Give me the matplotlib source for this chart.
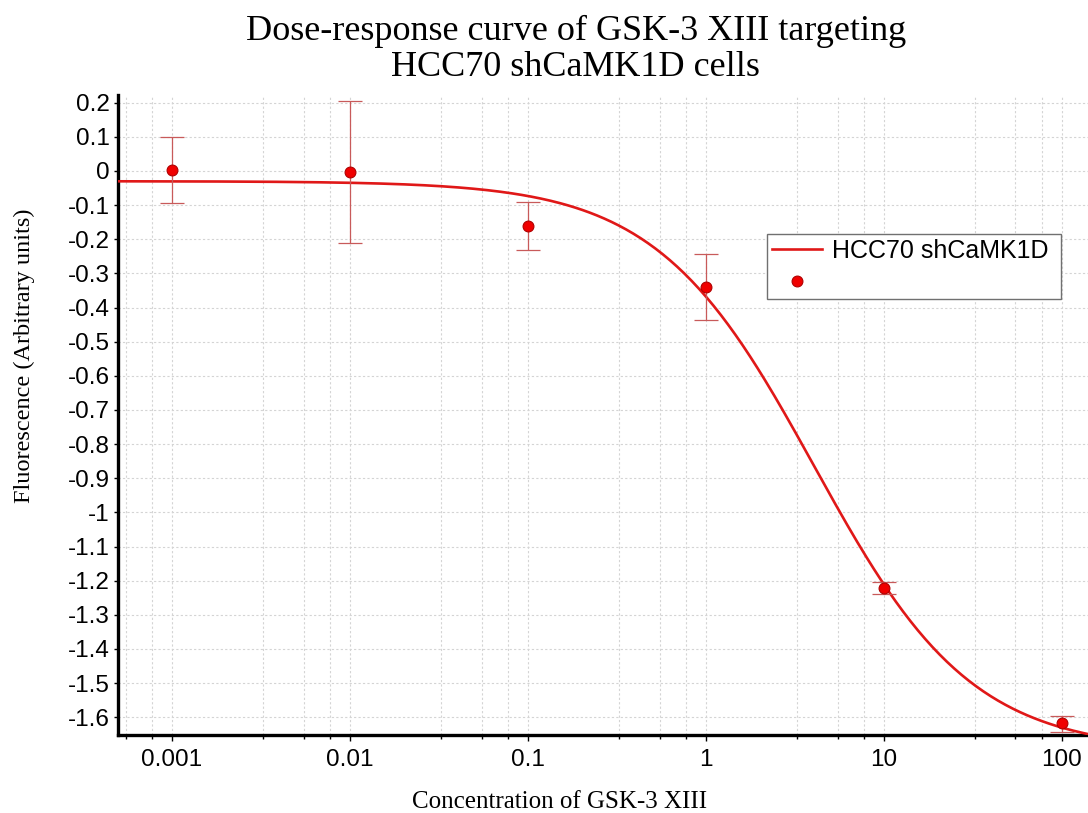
import numpy as np
import matplotlib
matplotlib.use("Agg")
import matplotlib.pyplot as plt
from matplotlib.lines import Line2D
from matplotlib.ticker import FixedLocator, NullFormatter

# ---- data ----
concentrations = [0.001, 0.01, 0.1, 1, 10, 100]
responses = [0.003, -0.004, -0.160, -0.340, -1.220, -1.618]
err_upper = [0.100, 0.205, -0.090, -0.243, -1.203, -1.595]
err_lower = [-0.095, -0.210, -0.232, -0.437, -1.240, -1.643]

# fitted 4-parameter logistic curve (parameters)
fit_top = -0.03
fit_bottom = -1.70
fit_ec50 = 4.07
fit_hill = 0.978

series_label = "HCC70 shCaMK1D"
title_line1 = "Dose-response curve of GSK-3 XIII targeting"
title_line2 = "HCC70 shCaMK1D cells"
xlabel_text = "Concentration of GSK-3 XIII"
ylabel_text = "Fluorescence (Arbitrary units)"
x_ticks = [0.001, 0.01, 0.1, 1, 10, 100]
x_tick_labels = ["0.001", "0.01", "0.1", "1", "10", "100"]
y_ticks = [round(0.2 - 0.1 * i, 1) for i in range(19)]

# ---- figure ----
W, H = 1088, 813
fig = plt.figure(figsize=(W / 100, H / 100), dpi=100)
ax = fig.add_axes([118 / W, 78 / H, (W - 118) / W, (735 - 95) / H])

xmin, xmax = 0.000497, 140.6
ymin, ymax = -1.652, 0.2225
ax.set_xscale("log")
ax.set_xlim(xmin, xmax)
ax.set_ylim(ymin, ymax)

red_line = "#e01818"
red_marker = "#f00000"
red_edge = "#b00000"
err_color = "#c85a5a"

xs = np.logspace(np.log10(xmin), np.log10(xmax), 400)
ys = fit_bottom + (fit_top - fit_bottom) / (1 + (xs / fit_ec50) ** fit_hill)
ax.plot(xs, ys, color=red_line, lw=1.9, zorder=3)

resp = np.array(responses)
yerr = np.vstack([resp - np.array(err_lower), np.array(err_upper) - resp])
ax.errorbar(concentrations, responses, yerr=yerr, fmt="none", ecolor=err_color,
            elinewidth=0.9, capsize=8.5, capthick=0.9, zorder=4)
ax.plot(concentrations, responses, "o", ms=7.8, mfc=red_marker, mec=red_edge,
        mew=0.8, zorder=5)

# ticks and grid
ax.xaxis.set_major_locator(FixedLocator(x_ticks))
ax.set_xticklabels(x_tick_labels)
minor = []
for d in [0.0001, 0.001, 0.01, 0.1, 1, 10, 100]:
    for k in (1, 2, 3):
        minor.append(d * (1 + 2.25 * k))
ax.xaxis.set_minor_locator(FixedLocator(minor))
ax.xaxis.set_minor_formatter(NullFormatter())
ax.set_yticks(y_ticks)
ax.set_yticklabels([("%g" % v) for v in y_ticks])

grid_kw = dict(color="#d4d4d4", lw=0.8, linestyle=(0, (2, 2)))
ax.grid(True, which="major", axis="both", **grid_kw)
ax.grid(True, which="minor", axis="x", **grid_kw)

for lab in ax.get_xticklabels() + ax.get_yticklabels():
    lab.set_fontfamily("Liberation Sans")
    lab.set_fontsize(17.5)
ax.tick_params(axis="x", which="major", length=4, width=1, pad=6, colors="black")
ax.tick_params(axis="x", which="minor", length=3, width=1)
ax.tick_params(axis="y", length=3, width=1, pad=3)

for s in ("top", "right"):
    ax.spines[s].set_visible(False)
for s in ("left", "bottom"):
    ax.spines[s].set_linewidth(2.4)
    ax.spines[s].set_color("black")

# labels
fig.text(576 / W, 1 - 40 / H, title_line1, ha="center", va="baseline",
         family="Liberation Serif", fontsize=26)
fig.text(575 / W, 1 - 76 / H, title_line2, ha="center", va="baseline",
         family="Liberation Serif", fontsize=26)
fig.text(560 / W, 1 - 808 / H, xlabel_text, ha="center", va="baseline",
         family="Liberation Serif", fontsize=18)
fig.text(24 / W, 1 - 356 / H, ylabel_text, ha="center", va="center",
         rotation=90, family="Liberation Serif", fontsize=17.5)

# legend
handles = [Line2D([], [], color=red_line, lw=1.9),
           Line2D([], [], ls="none", marker="o", ms=7.8, mfc=red_marker,
                  mec=red_edge, mew=0.8)]
leg = fig.legend(handles, [series_label + " ", " "], loc="upper left",
                 bbox_to_anchor=(767 / W, 1 - 234 / H), borderaxespad=0,
                 prop={"family": "Liberation Sans", "size": 18},
                 frameon=True, fancybox=False, framealpha=1, edgecolor="#707070",
                 handlelength=2.0, handletextpad=0.4, labelspacing=0.3,
                 borderpad=0.2)
leg.get_frame().set_linewidth(1.0)

fig.savefig("out.png", dpi=100)
